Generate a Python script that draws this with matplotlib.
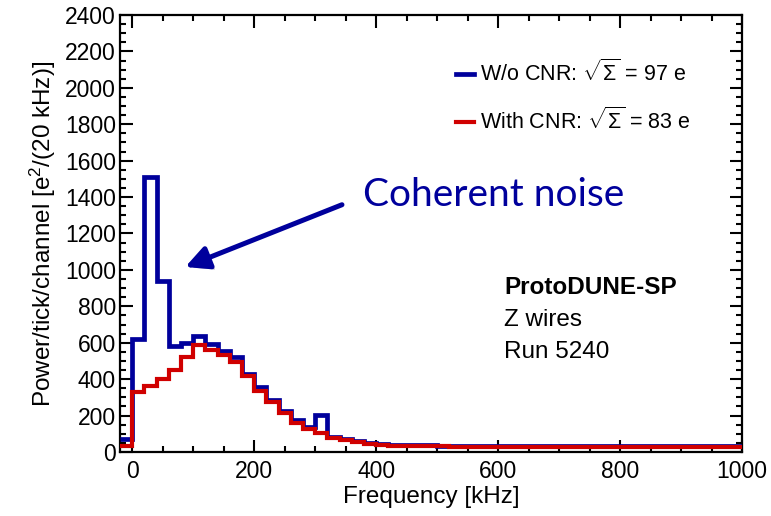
import numpy as np
import matplotlib
matplotlib.use("Agg")
import matplotlib.pyplot as plt
from matplotlib.ticker import MultipleLocator
import matplotlib.patheffects as pe

# ---- data ----
freq_edges = np.arange(-20, 1001, 20)  # kHz, 20 kHz bins

power_wo_cnr = [70, 620, 1510, 940, 580, 598, 635, 593, 556, 519, 428, 355,
                286, 226, 174, 140, 204, 83, 70, 59, 50, 44, 40,
                38, 37, 36, 35, 35, 34, 34, 34, 33, 33, 33, 33, 32, 32,
                32, 32, 31, 31, 31, 31, 31, 31, 31, 31, 31, 31, 31, 31]
power_with_cnr = [35, 330, 363, 400, 450, 519, 587, 560, 534, 495, 415, 336,
                  272, 213, 158, 129, 107, 77, 64, 53, 44, 39, 34,
                  33, 32, 31, 31, 30, 30, 29, 29, 29, 28, 28, 28, 28, 28,
                  27, 27, 27, 27, 27, 27, 27, 27, 27, 27, 27, 27, 27, 27]

label_wo = r"W/o CNR: $\sqrt{\Sigma}$ = 97 e"
label_with = r"With CNR: $\sqrt{\Sigma}$ = 83 e"
info_lines = ["ProtoDUNE-SP", "Z wires", "Run 5240"]
annot_text = "Coherent noise"

blue = "#00009c"
red = "#d00000"

plt.rcParams['font.family'] = ['Liberation Sans', 'DejaVu Sans']
plt.rcParams['mathtext.fontset'] = 'custom'
plt.rcParams['mathtext.rm'] = 'Liberation Sans'
plt.rcParams['mathtext.it'] = 'Liberation Sans'

fig = plt.figure(figsize=(7.71, 5.16), dpi=100)
ax = fig.add_axes([120/771, 1-452/516, 622/771, 437/516])

ax.stairs(power_wo_cnr, freq_edges, color=blue, lw=3.4, label=label_wo,
          baseline=None, zorder=3)
ax.stairs(power_with_cnr, freq_edges, color=red, lw=3.0, label=label_with,
          baseline=None, zorder=4)

ax.set_xlim(-20, 1000)
ax.set_ylim(0, 2400)
ax.xaxis.set_major_locator(MultipleLocator(200))
ax.xaxis.set_minor_locator(MultipleLocator(50))
ax.yaxis.set_major_locator(MultipleLocator(200))
ax.yaxis.set_minor_locator(MultipleLocator(50))
ax.tick_params(which='both', direction='in', top=True, right=True, width=1.5)
ax.tick_params(which='major', length=9, labelsize=16.5)
ax.tick_params(which='minor', length=4.5)
ax.tick_params(axis='y', which='major', pad=3)
ax.tick_params(axis='x', which='major', pad=6)
for s in ax.spines.values():
    s.set_linewidth(1.6)

ax.set_xlabel("Frequency [kHz]", fontsize=17.5, labelpad=2)
ax.set_ylabel(r"Power/tick/channel [e$^{2}$/(20 kHz)]", fontsize=17.5, labelpad=5)

leg = ax.legend(loc='upper left', bbox_to_anchor=(0.54, 0.897), frameon=False,
                fontsize=15.5, handlelength=0.83, handletextpad=0.3,
                labelspacing=1.0, borderpad=0, borderaxespad=0)

ann = ax.annotate("", xy=(87, 1016), xytext=(344, 1358),
                  arrowprops=dict(arrowstyle="-|>,head_length=0.7,head_width=0.35",
                                  color=blue, lw=3.6, mutation_scale=20,
                                  shrinkA=0, shrinkB=0))
ann.arrow_patch.set_path_effects([pe.SimplePatchShadow(offset=(2, -2), alpha=0.35),
                                  pe.Normal()])
ax.text(592, 1410, annot_text, color=blue, fontsize=28, family=['Lato', 'DejaVu Sans'],
        ha='center', va='center')

ax.text(0.618, 0.3616, info_lines[0], transform=ax.transAxes, fontsize=17.5,
        fontweight='bold', va='baseline')
ax.text(0.618, 0.288, info_lines[1], transform=ax.transAxes, fontsize=17.5,
        va='baseline')
ax.text(0.618, 0.215, info_lines[2], transform=ax.transAxes, fontsize=17.5,
        va='baseline')

fig.savefig("out.png", dpi=100)
